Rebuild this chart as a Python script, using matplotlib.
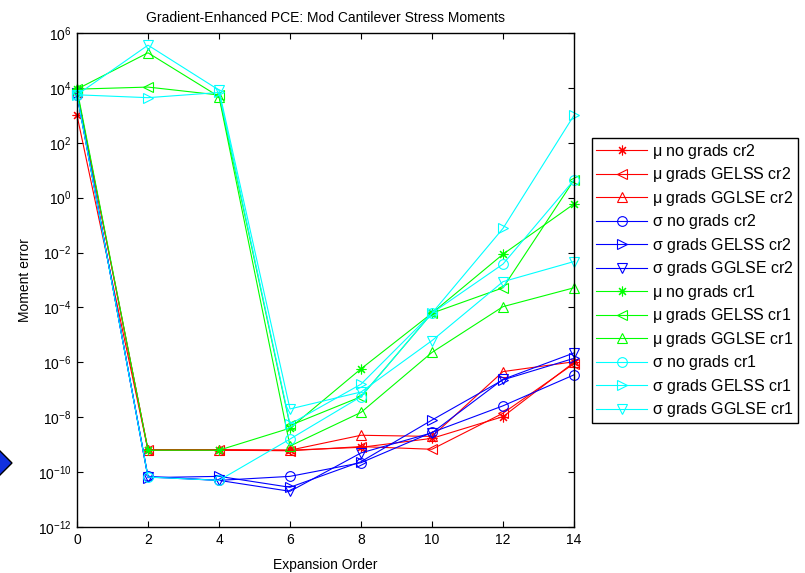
import math
import matplotlib
matplotlib.use("Agg")
import matplotlib.pyplot as plt
from matplotlib.patches import Polygon
from matplotlib.ticker import FixedLocator, FuncFormatter, NullLocator

plt.rcParams['font.family'] = ['Liberation Sans', 'DejaVu Sans']
plt.rcParams['mathtext.fontset'] = 'custom'
plt.rcParams['mathtext.rm'] = 'Liberation Sans'
plt.rcParams['mathtext.it'] = 'Liberation Sans:italic'
plt.rcParams['mathtext.default'] = 'regular'

# Expansion orders
orders = [0, 2, 4, 6, 8, 10, 12, 14]

# Moment errors, crude rule 2 (cr2)
mu_nograds_cr2 = [1.0e3, 6.3e-10, 6.3e-10, 6.3e-10, 8.0e-10, 1.7e-9, 1.05e-8, 1.0e-6]
mu_gelss_cr2 = [7.0e3, 6.3e-10, 6.3e-10, 6.0e-10, 8.5e-10, 6.8e-10, 1.4e-8, 9.0e-7]
mu_gglse_cr2 = [7.0e3, 6.6e-10, 6.6e-10, 6.3e-10, 2.2e-9, 2.0e-9, 4.6e-7, 1.05e-6]
sig_nograds_cr2 = [5.6e3, 7.0e-11, 5.0e-11, 7.0e-11, 2.2e-10, 2.8e-9, 2.6e-8, 3.5e-7]
sig_gelss_cr2 = [6.3e3, 6.3e-11, 7.0e-11, 2.8e-11, 2.4e-10, 7.9e-9, 2.3e-7, 1.4e-6]
sig_gglse_cr2 = [6.3e3, 6.6e-11, 5.0e-11, 2.0e-11, 5.0e-10, 2.7e-9, 2.4e-7, 2.2e-6]

# Moment errors, crude rule 1 (cr1)
mu_nograds_cr1 = [9.0e3, 6.3e-10, 6.3e-10, 4.0e-9, 5.8e-7, 6.2e-5, 8.7e-3, 0.59]
mu_gelss_cr1 = [9.0e3, 1.07e4, 5.5e3, 5.0e-9, 5.6e-8, 6.2e-5, 5.2e-4, 4.4]
mu_gglse_cr1 = [9.0e3, 1.9e5, 4.8e3, 8.9e-10, 1.5e-8, 2.3e-6, 1.07e-4, 5.2e-4]
sig_nograds_cr1 = [5.6e3, 6.6e-11, 5.0e-11, 1.6e-9, 5.6e-8, 6.2e-5, 3.8e-3, 4.4]
sig_gelss_cr1 = [5.6e3, 4.4e3, 6.8e3, 5.6e-9, 1.6e-7, 6.2e-5, 7.6e-2, 1.0e3]
sig_gglse_cr1 = [5.6e3, 3.6e5, 8.3e3, 2.0e-8, 8.3e-8, 6.2e-6, 8.7e-4, 4.7e-3]

labels = [
    r'$\mu$ no grads cr2', r'$\mu$ grads GELSS cr2', r'$\mu$ grads GGLSE cr2',
    r'$\sigma$ no grads cr2', r'$\sigma$ grads GELSS cr2', r'$\sigma$ grads GGLSE cr2',
    r'$\mu$ no grads cr1', r'$\mu$ grads GELSS cr1', r'$\mu$ grads GGLSE cr1',
    r'$\sigma$ no grads cr1', r'$\sigma$ grads GELSS cr1', r'$\sigma$ grads GGLSE cr1',
]
series = [mu_nograds_cr2, mu_gelss_cr2, mu_gglse_cr2,
          sig_nograds_cr2, sig_gelss_cr2, sig_gglse_cr2,
          mu_nograds_cr1, mu_gelss_cr1, mu_gglse_cr1,
          sig_nograds_cr1, sig_gelss_cr1, sig_gglse_cr1]

colors = ['#ff0000'] * 3 + ['#0000ff'] * 3 + ['#00ff00'] * 3 + ['#00ffff'] * 3
asterisk = (8, 2, 0)
markers = [asterisk, '<', '^', 'o', '>', 'v'] * 2

W, H = 805, 573
fig = plt.figure(figsize=(W / 100, H / 100), dpi=100)
ax = fig.add_axes([77 / W, 1 - 527 / H, 497 / W, 494 / H])

for vals, lab, c, m in zip(series, labels, colors, markers):
    ax.plot(orders, vals, color=c, marker=m, markersize=7, markerfacecolor='none',
            markeredgecolor=c, markeredgewidth=0.8, linewidth=0.8, label=lab,
            clip_on=False)

ax.set_yscale('log')
ax.set_xlim(0, 14)
ax.set_ylim(1e-12, 1e6)
ax.xaxis.set_major_locator(FixedLocator(orders))
ax.yaxis.set_major_locator(FixedLocator([10.0 ** e for e in range(-12, 7, 2)]))
ax.yaxis.set_minor_locator(NullLocator())


def pow_fmt(v, pos):
    e = int(round(math.log10(v)))
    return r'$10^{%d}$' % e


ax.yaxis.set_major_formatter(FuncFormatter(pow_fmt))
ax.tick_params(direction='in', top=True, right=True, length=4, width=0.8,
               labelsize=10, pad=4)
for s in ax.spines.values():
    s.set_linewidth(1.0)

ax.set_title('Gradient-Enhanced PCE: Mod Cantilever Stress Moments', fontsize=10, pad=8)
ax.set_xlabel('Expansion Order', fontsize=10, labelpad=8)
ax.set_ylabel('Moment error', fontsize=10, labelpad=4)

leg = fig.legend(loc='upper left', bbox_to_anchor=(592 / W, 1 - 138 / H),
                 fontsize=11.5, numpoints=1, handlelength=3.2, handletextpad=0.3,
                 labelspacing=0.28, borderpad=0.25, fancybox=False, framealpha=1,
                 edgecolor='black', borderaxespad=0)
leg.get_frame().set_linewidth(1.0)

# Blue diamond pointer on the left margin
pts = [(12, 463), (-3, 448), (-18, 463), (-3, 478)]
diamond = Polygon([(x / W, 1 - y / H) for x, y in pts], closed=True,
                  transform=fig.transFigure, facecolor='#1030e0', edgecolor='black',
                  linewidth=1.0)
fig.patches.append(diamond)

fig.savefig('out.png', dpi=100)
